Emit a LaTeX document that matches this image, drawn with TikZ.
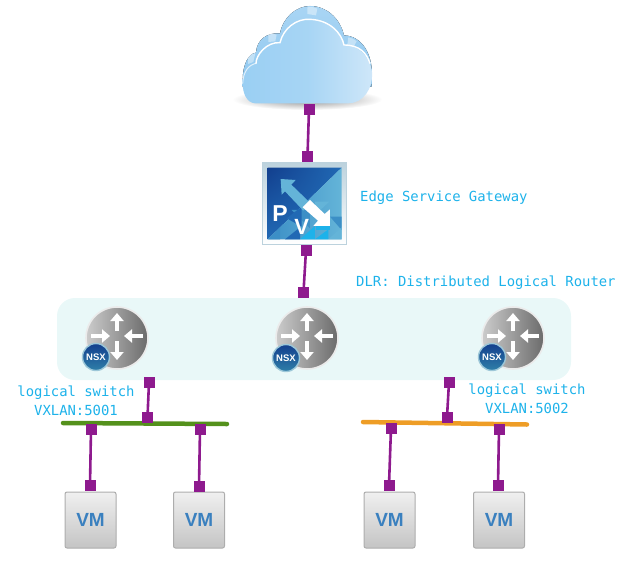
\documentclass[tikz,border=0pt]{standalone}
\usepackage{fontspec}
\setmonofont{DejaVu Sans Mono}
\setsansfont{Liberation Sans}
\usetikzlibrary{arrows.meta,shadings}
\definecolor{linkc}{HTML}{8E1A8E}
\definecolor{labelc}{HTML}{1DB2EA}
\definecolor{panelc}{HTML}{E9F8F8}
\definecolor{vmtext}{HTML}{3A80BF}
\definecolor{greenbar}{HTML}{54911C}
\definecolor{orangebar}{HTML}{EE9D26}
\definecolor{cloudL}{HTML}{9ACFF3}
\definecolor{cloudR}{HTML}{CFE7F9}
\definecolor{cloudBackT}{HTML}{A9D5F4}
\definecolor{cloudBackB}{HTML}{8FC8F0}
\definecolor{pvdark}{HTML}{123F8E}
\definecolor{pvmid}{HTML}{2169B4}
\definecolor{pvlight}{HTML}{64B4D8}
\definecolor{pvlow}{HTML}{3C8FC6}
\definecolor{frameT}{HTML}{BCD2DD}
\definecolor{badgeO}{HTML}{9CC7D8}
\definecolor{badgeT}{HTML}{2F7FA8}
\tikzset{
  port/.style={draw=none,fill=linkc,minimum size=11pt,inner sep=0pt,rectangle},
  link/.style={draw=linkc,line width=2.6pt},
  lbl/.style={font=\ttfamily\fontsize{13.9}{19}\selectfont,text=labelc,inner sep=0pt,align=center},
  vmbox/.style={rectangle,rounded corners=2pt,draw=black!32,line width=1pt,top color=black!6,bottom color=black!23,minimum width=51pt,minimum height=56pt,inner sep=0pt,font=\sffamily\bfseries\fontsize{19}{19}\selectfont,text=vmtext},
  routerball/.style={circle,draw=black!8,line width=1.6pt,left color=black!20,right color=black!58,minimum size=62pt,inner sep=0pt},
  badge/.style={circle,draw=badgeO,line width=1.4pt,top color=pvdark,bottom color=badgeT,minimum size=27pt,inner sep=0pt,font=\sffamily\bfseries\fontsize{9.5}{10}\selectfont,text=white},
  routerarrows/.pic={
    \draw[white,line width=3.4pt,-{Triangle[length=8pt,width=13pt]}] (0,-7) -- (0,-25);
    \draw[white,line width=3.4pt,-{Triangle[length=8pt,width=13pt]}] (0,3) -- (0,22);
    \draw[white,line width=3.4pt,-{Triangle[length=8pt,width=13pt]}] (-26,-2) -- (-7,-2);
    \draw[white,line width=3.4pt,-{Triangle[length=8pt,width=13pt]}] (26,-2) -- (7,-2);
  }
}
\begin{document}
\begin{tikzpicture}[x=1pt,y=-1pt]
\useasboundingbox (0,0) rectangle (644,562);
% cloud
\begin{scope}[shift={(220,0)},x=0.3333pt,y=-0.3333pt]
  \shade[inner color=black!45,outer color=white] (262,298) ellipse (225 and 32);
  % back lobes
  \fill[top color=cloudBackT,bottom color=cloudBackB]
    (68,240) .. controls (68,195) and (85,160) .. (108,158)
    .. controls (110,120) and (140,97) .. (180,100)
    .. controls (190,50) and (230,18) .. (270,18)
    .. controls (320,18) and (360,55) .. (372,106)
    .. controls (425,108) and (458,160) .. (456,230) -- (455,260) -- (68,260) -- cycle;
  \fill[white,opacity=.4] (262,22) .. controls (275,20) and (285,22) .. (292,26) -- (288,46) -- (262,42) -- cycle;
  \fill[white,opacity=.4] (145,102) .. controls (155,100) and (165,102) .. (170,104) -- (166,124) -- (145,126) -- cycle;
  \fill[white,opacity=.4] (385,112) .. controls (395,114) and (405,118) .. (410,124) -- (400,142) -- (382,134) -- cycle;
  \fill[white,opacity=.4] (84,165) .. controls (90,162) and (100,160) .. (106,160) -- (100,186) -- (84,192) -- cycle;
  % front body
  \path[left color=cloudL,right color=cloudR,middle color=cloudL!75!cloudR]
    (68,250) .. controls (70,215) and (85,195) .. (108,190)
    .. controls (108,165) and (140,125) .. (180,128)
    .. controls (190,85) and (230,55) .. (270,58)
    .. controls (330,60) and (365,100) .. (372,135)
    .. controls (420,135) and (450,175) .. (456,215)
    .. controls (460,265) and (430,310) .. (385,310)
    -- (105,310) .. controls (80,308) and (68,280) .. (68,250) -- cycle;
  \draw[white,line width=1.4pt,line cap=round] (108,190)
    .. controls (108,165) and (140,125) .. (180,128)
    .. controls (190,85) and (230,55) .. (270,58)
    .. controls (330,60) and (365,100) .. (372,135)
    .. controls (420,135) and (440,160) .. (450,190);
  \draw[white,line width=1pt,line cap=round,opacity=.7] (68,250) .. controls (70,215) and (85,195) .. (108,190);
\end{scope}
\node[inner sep=0pt,minimum size=1pt] (cloud) at (308,60) {};
% gateway icon
\begin{scope}[shift={(250,150)},x=0.3333pt,y=-0.3333pt]
  \fill[top color=frameT,bottom color=white] (38,38) rectangle (290,283);
  \draw[frameT,line width=.7pt] (38,38) rectangle (290,283);
  \shade[upper left=pvdark,lower right=pvmid,upper right=pvmid,lower left=pvmid] (53,53) -- (275,53) -- (53,268) -- cycle;
  \shade[left color=pvlow,right color=pvlight] (275,53) -- (275,268) -- (53,268) -- cycle;
  \fill[pvlow] (125,180) -- (180,180) -- (180,235) -- cycle;
  \fill[pvmid] (110,205) -- (155,170) -- (155,230) -- cycle;
  \fill[pvmid] (105,268) -- (150,268) -- (150,232) -- cycle;
  \fill[labelc] (150,268) -- (195,268) -- (195,228) -- cycle;
  \fill[pvlight] (195,155) -- (238,155) -- (195,195) -- cycle;
  \fill[pvlow] (240,200) -- (275,200) -- (275,240) -- cycle;
  \fill[pvlight] (235,268) -- (275,268) -- (275,232) -- cycle;
  \fill[labelc] (195,268) -- (235,268) -- (235,238) -- cycle;
  \fill[pvlow] (55,268) -- (90,268) -- (90,232) -- cycle;
  % arrows
  \fill[pvlight] (92,87) -- (137,90) -- (124,104) -- (182,160) -- (160,182) -- (105,124) -- (95,134) -- cycle;
  \fill[white] (158,172) -- (180,150) -- (224,192) -- (240,178) -- (240,228) -- (190,228) -- (204,212) -- cycle;
  \fill[labelc] (197,228) -- (240,228) -- (240,240) -- (197,240) -- cycle;
  \node[inner sep=0pt,text=white,font=\sffamily\bfseries\fontsize{23}{23}\selectfont] (pletter) at (90,190) {P};
  \node[inner sep=0pt,text=white,font=\sffamily\bfseries\fontsize{22}{22}\selectfont] (vletter) at (155,232) {V};
\end{scope}
% panel
\node[rectangle,rounded corners=18pt,fill=panelc,minimum width=514pt,minimum height=82pt,inner sep=0pt] (dlr) at (314,339) {};
% routers
\node[routerball] (r1) at (117,338) {};
\pic at (117,338) {routerarrows};
\node[badge] (n1) at (96,357) {NSX};
\node[routerball] (r2) at (307,338) {};
\pic at (307,338) {routerarrows};
\node[badge] (n2) at (286,358) {NSX};
\node[routerball] (r3) at (513,338) {};
\pic at (513,338) {routerarrows};
\node[badge] (n3) at (492,357) {NSX};
% VMs
\node[vmbox] (vm1) at (90.5,520) {VM};
\node[vmbox] (vm2) at (199,520) {VM};
\node[vmbox] (vm3) at (389.5,520) {VM};
\node[vmbox] (vm4) at (499,520) {VM};
% switches
\coordinate (g1) at (63,423);
\coordinate (g2) at (227,424);
\coordinate (o1) at (363,422);
\coordinate (o2) at (527,424.5);
\draw[line width=4.5pt,line cap=round,draw=greenbar] (g1) -- (g2);
\draw[line width=4.5pt,line cap=round,draw=orangebar] (o1) -- (o2);
% ports
\node[port] (pa1) at (309,109) {};
\node[port] (pa2) at (307.5,156) {};
\node[port] (pb1) at (306,250) {};
\node[port] (pb2) at (303.5,292) {};
\node[port] (pc1) at (149,382) {};
\node[port] (pc2) at (147.5,417) {};
\node[port] (pd1) at (449,382) {};
\node[port] (pd2) at (447,417) {};
\node[port] (pe1) at (91,429) {};
\node[port] (pe2) at (90,485) {};
\node[port] (pf1) at (200,429) {};
\node[port] (pf2) at (199,486) {};
\node[port] (pg1) at (391,428) {};
\node[port] (pg2) at (389,485) {};
\node[port] (ph1) at (499,429) {};
\node[port] (ph2) at (498,485) {};
\foreach \a/\b in {pa1/pa2,pb1/pb2,pc1/pc2,pd1/pd2,pe1/pe2,pf1/pf2,pg1/pg2,ph1/ph2}
  \draw[link] (\a.center) -- (\b.center);
% labels
\node[lbl,anchor=west] (t1) at (360,198) {Edge Service Gateway};
\node[lbl,anchor=west] (t2) at (356,283) {DLR: Distributed Logical Router};
\node[lbl] (t3) at (76,400.5) {logical switch\\VXLAN:5001};
\node[lbl] (t4) at (527,399) {logical switch\\VXLAN:5002};
\end{tikzpicture}
\end{document}
